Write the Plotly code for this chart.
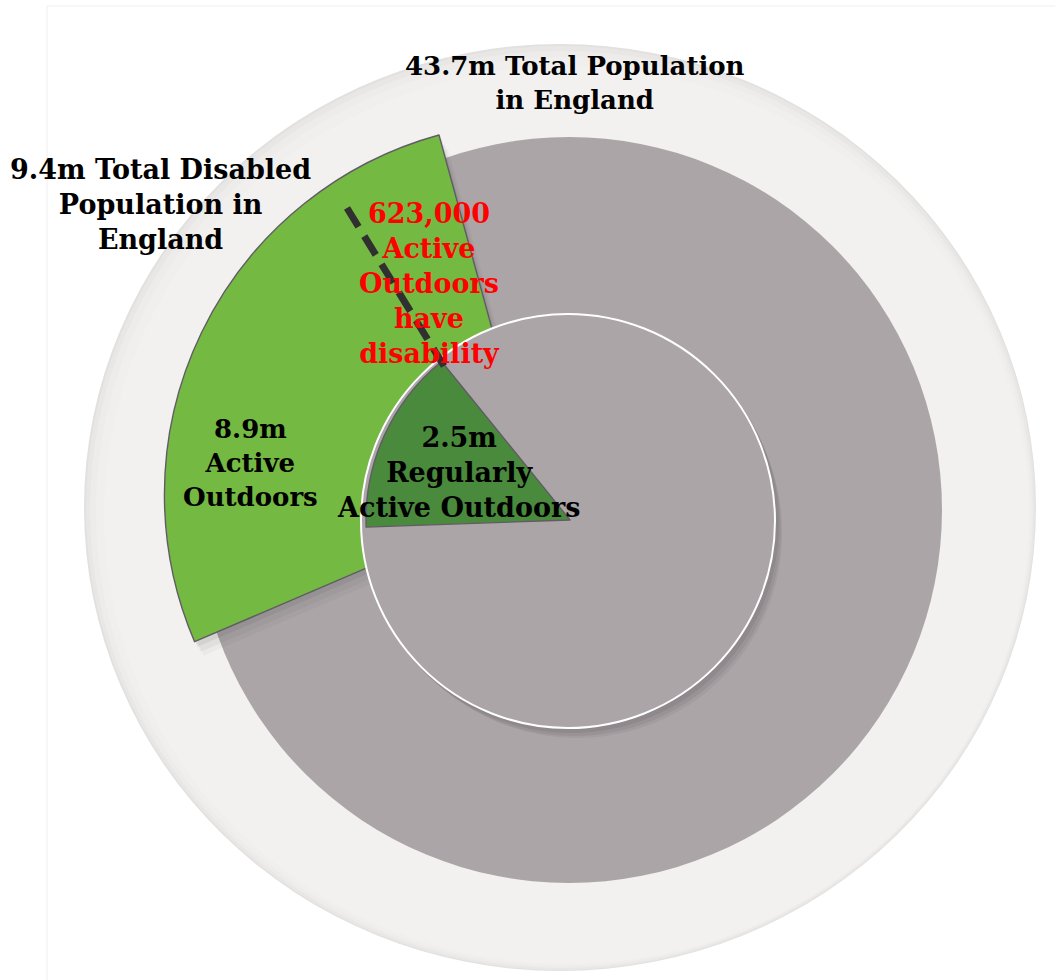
import plotly.graph_objects as go

W, H = 1055, 980

# ---- data ----
ring_labels = ["9.4m Total Disabled Population in England", "Rest of 43.7m population"]
ring_angles = [97.9, 262.1]          # slice sizes (degrees) as drawn
core_labels = ["2.5m Regularly Active Outdoors", "Rest"]
core_angles = [53.0, 307.0]          # slice sizes (degrees) as drawn

title_total = "43.7m Total Population<br>in England"
title_disabled = "9.4m Total Disabled<br>Population in<br>England"
label_active = "8.9m<br>Active<br>Outdoors"
label_regular = "2.5m<br>Regularly<br>Active Outdoors"
label_red = "623,000<br>Active<br>Outdoors<br>have<br>disability"

# ---- styling / geometry ----
GRAY = "#aba5a7"
GREEN = "#74b942"
DGREEN = "#4a8a3c"
EDGE = "#615c64"
CLEAR = "rgba(0,0,0,0)"
FONT = "DejaVu Serif"


def px(x):
    return x / W


def py(y):
    return 1 - y / H


def dom(cx, cy, half):
    return dict(x=[px(cx - half), px(cx + half)], y=[py(cy + half), py(cy - half)])


disk_c, disk_r = (569, 510), 373
pull_frac = 0.094
inner_c, inner_r = (568, 521), 207
core_c, core_r = (570, 520), 204

common = dict(sort=False, textinfo="none", hoverinfo="skip", showlegend=False,
              direction="clockwise")

fig = go.Figure()

# gray population disk
fig.add_trace(go.Pie(values=[1], labels=["43.7m Total Population"],
                     marker=dict(colors=[GRAY], line=dict(width=0)),
                     domain=dom(*disk_c, disk_r), **common))

# soft shadow of the pulled disabled slice
for (dx, dy, a) in [(3, 5, 0.07), (6, 10, 0.05), (9, 14, 0.03)]:
    sc = (disk_c[0] + dx, disk_c[1] + dy)
    fig.add_trace(go.Pie(values=ring_angles, labels=ring_labels,
                         rotation=246.8, pull=[pull_frac, 0],
                         marker=dict(colors=[f"rgba(40,30,35,{a})", CLEAR], line=dict(width=0)),
                         domain=dom(*sc, disk_r * (1 + pull_frac)), **common))

# pulled disabled slice
fig.add_trace(go.Pie(values=ring_angles, labels=ring_labels,
                     rotation=246.8, pull=[pull_frac, 0],
                     marker=dict(colors=[GREEN, CLEAR],
                                 line=dict(color=[EDGE, CLEAR], width=[1.4, 0])),
                     domain=dom(*disk_c, disk_r * (1 + pull_frac)), **common))

# soft shadow under inner circle
for (dx, dy, dr, a) in [(3, 4, 1, 0.10), (6, 8, 0, 0.08), (9, 12, -2, 0.06)]:
    fig.add_trace(go.Pie(values=[1], labels=["shadow"],
                         marker=dict(colors=[f"rgba(50,40,45,{a})"], line=dict(width=0)),
                         domain=dom(inner_c[0] + dx, inner_c[1] + dy, inner_r + dr), **common))

# inner circle
fig.add_trace(go.Pie(values=[1], labels=["inner"],
                     marker=dict(colors=[GRAY], line=dict(color="white", width=2)),
                     domain=dom(*inner_c, inner_r), **common))

# regularly active slice
fig.add_trace(go.Pie(values=core_angles, labels=core_labels, rotation=268,
                     marker=dict(colors=[DGREEN, CLEAR],
                                 line=dict(color=[EDGE, CLEAR], width=[1.4, 0])),
                     domain=dom(*core_c, core_r), **common))

# background ring (light disc with shaded rim)
shapes = []
for (x0, y0, x1, y1, col) in [(84, 44, 1036, 971, "#e2e1df"),
                              (86, 46, 1035, 970, "#e8e7e5"),
                              (90, 51, 1033, 968, "#edecea"),
                              (96, 57, 1031, 966, "#f0efed"),
                              (104, 66, 1029, 964, "#f2f1ef")]:
    shapes.append(dict(type="circle", xref="paper", yref="paper", layer="below",
                       x0=px(x0), x1=px(x1), y0=py(y1), y1=py(y0),
                       fillcolor=col, line=dict(width=0)))
# faint page frame
shapes.append(dict(type="line", xref="paper", yref="paper", layer="below",
                   x0=px(47), x1=px(47), y0=py(980), y1=py(6),
                   line=dict(color="#efefef", width=1)))
shapes.append(dict(type="line", xref="paper", yref="paper", layer="below",
                   x0=px(47), x1=px(1055), y0=py(6), y1=py(6),
                   line=dict(color="#efefef", width=1)))
# dashed pointer line
shapes.append(dict(type="line", xref="paper", yref="paper", layer="above",
                   x0=px(347), y0=py(208), x1=px(444), y1=py(366),
                   line=dict(color="#303030", width=7, dash="22px,11px")))


def ann(text, x, y, size, color="black"):
    return dict(text=f"<b>{text}</b>", x=px(x), y=py(y), xref="paper", yref="paper",
                xanchor="center", yanchor="middle", showarrow=False, align="center",
                font=dict(family=FONT, size=size, color=color))


annotations = [
    ann(title_total, 575, 83, 26),
    ann(title_disabled, 160, 204, 27),
    ann(label_active, 251, 463, 26),
    ann(label_regular, 458, 472, 27),
    ann(label_red, 429, 284, 27, "#ff0000"),
]

fig.update_layout(width=W, height=H, margin=dict(l=0, r=0, t=0, b=0),
                  paper_bgcolor="white", plot_bgcolor="white",
                  shapes=shapes, annotations=annotations, showlegend=False)

fig.write_html("out.html")
